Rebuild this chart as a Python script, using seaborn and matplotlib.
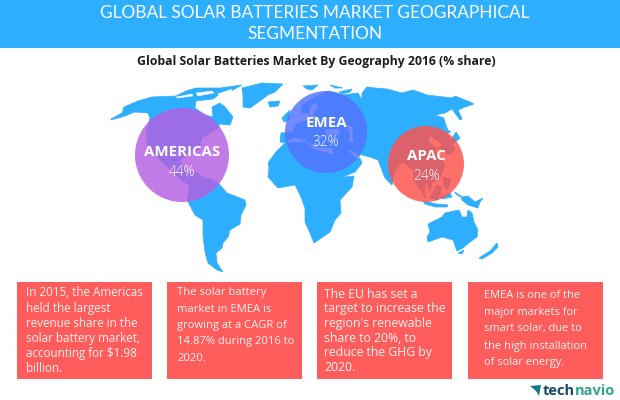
#!/usr/bin/env python3
"""Global solar batteries market by geography, map infographic."""

import matplotlib
matplotlib.use("Agg")
import matplotlib.pyplot as plt
from matplotlib.patches import Polygon, Rectangle
import pandas as pd
import seaborn as sns

sns.set_theme(style="white")
plt.rcParams["font.family"] = ["Open Sans", "DejaVu Sans"]

# Data
REGIONS = ["AMERICAS", "EMEA", "APAC"]
SHARES = [44, 32, 24]
TITLE_LINES = ["GLOBAL SOLAR BATTERIES MARKET GEOGRAPHICAL", "SEGMENTATION"]
SUBTITLE = "Global Solar Batteries Market By Geography 2016 (% share)"
NOTES = [
    ["In 2015, the Americas", "held the largest", "revenue share in the",
     "solar battery market,", "accounting for $1.98", "billion."],
    ["The solar battery", "market in EMEA is", "growing at a CAGR of",
     "14.87% during 2016 to", "2020."],
    ["The EU has set a", "target to increase the", "region's renewable",
     "share to 20%, to", "reduce the GHG by", "2020."],
    ["EMEA is one of the", "major markets for", "smart solar, due to",
     "the high installation", "of solar energy."],
]

# Colours
BLUE = "#2EAEFF"
RED = "#FF5C5C"
BUBBLE_COLORS = ["#B560E1", "#5474FF", "#FF534C"]

# Layout, in reference pixels
BUBBLE_X = [182, 326, 426]
BUBBLE_Y = [155, 132, 164]
BUBBLE_R = [47, 41, 38]
BOX_X = [(17, 152), (167, 302), (317, 452), (468, 603)]
NOTE_X = [26, 177, 324, 484]
NOTE_Y = [293, 293, 294, 295]
NOTE_STEP = [15.2, 16.3, 14.7, 17.0]
NOTE_SIZE = [8.4, 8.1, 8.8, 7.9]

# Map outlines in pixels
LAND = [
    # North and Central America
    [(111, 119), (122, 113), (124, 107), (138, 101), (152, 97), (176, 96),
     (186, 91), (196, 88), (220, 88), (242, 85), (233, 90), (221, 93),
     (213, 99), (196, 101), (195, 108), (205, 115), (213, 117), (212, 107),
     (220, 103), (225, 107), (233, 117), (230, 125), (220, 124), (217, 129),
     (202, 138), (199, 150), (190, 151), (180, 160), (185, 170), (197, 173),
     (212, 183), (205, 186), (190, 186), (178, 177), (160, 160), (148, 145),
     (146, 133), (150, 118), (148, 113), (135, 112), (125, 116), (111, 120)],
    # South America
    [(190, 182), (210, 178), (220, 185), (227, 193), (245, 200), (246, 205),
     (241, 215), (240, 224), (230, 230), (228, 237), (223, 243), (222, 248),
     (216, 253), (217, 263), (223, 272), (217, 270), (208, 263), (205, 252),
     (203, 235), (203, 220), (195, 215), (187, 200)],
    # Greenland and Iceland
    [(242, 88), (262, 83), (283, 84), (275, 92), (268, 95), (257, 103),
     (250, 108), (243, 107), (243, 95)],
    [(268, 102), (280, 101), (278, 106), (270, 107)],
    # Africa
    [(268, 163), (276, 152), (285, 143), (305, 142), (315, 150), (335, 155),
     (342, 172), (345, 177), (354, 176), (352, 187), (340, 200), (341, 213),
     (335, 220), (330, 232), (314, 243), (310, 233), (305, 222), (305, 208),
     (301, 197), (295, 185), (278, 188), (268, 177), (269, 168)],
    # Eurasia
    [(280, 142), (281, 133), (293, 132), (296, 124), (308, 120), (310, 113),
     (302, 113), (302, 106), (315, 97), (328, 91), (343, 95), (358, 93),
     (362, 100), (362, 93), (367, 87), (375, 88), (387, 89), (402, 93),
     (413, 90), (427, 95), (452, 98), (455, 96), (470, 102), (474, 104),
     (465, 107), (458, 110), (462, 119), (460, 120), (452, 109), (445, 113),
     (435, 115), (444, 118), (445, 128), (448, 135), (455, 150), (448, 155),
     (441, 148), (435, 150), (445, 165), (440, 178), (432, 183), (430, 193),
     (425, 180), (425, 198), (414, 180), (413, 170), (403, 162), (395, 170),
     (392, 185), (385, 178), (378, 160), (370, 157), (358, 154), (362, 163),
     (355, 172), (345, 176), (340, 170), (333, 152), (333, 148), (318, 147),
     (316, 140), (312, 145), (305, 140), (295, 137), (288, 140), (287, 143)],
    # Islands of the far north and Britain
    [(303, 86), (318, 85), (312, 90), (307, 89)],
    [(330, 85), (343, 88), (335, 88)],
    [(339, 92), (352, 89), (350, 92), (342, 94)],
    [(282, 118), (290, 110), (289, 120), (284, 122)],
    # Japan
    [(444, 120), (448, 130), (451, 132), (447, 133)],
    [(456, 132), (460, 138), (453, 144), (451, 140)],
    # South East Asia
    [(430, 198), (437, 185), (442, 188), (438, 200)],
    [(443, 177), (451, 179), (448, 190), (444, 186)],
    [(423, 201), (437, 204), (448, 205), (447, 207), (435, 207), (425, 204)],
    [(440, 197), (450, 193), (452, 197), (442, 199)],
    [(455, 193), (460, 197), (461, 196), (455, 192)],
    # New Guinea
    [(461, 197), (468, 196), (475, 202), (483, 198), (480, 202), (478, 208),
     (468, 205), (462, 200)],
    # Australia, Tasmania, New Zealand
    [(428, 224), (442, 217), (445, 213), (459, 210), (462, 217), (467, 217),
     (468, 210), (472, 213), (474, 222), (478, 230), (477, 237), (470, 242),
     (463, 248), (457, 251), (453, 240), (442, 237), (428, 242), (427, 237),
     (430, 232)],
    [(458, 253), (464, 250), (462, 254)],
    [(479, 258), (490, 251), (497, 243), (498, 247), (492, 253), (482, 259)],
]

# Inland seas and arctic channels, knocked out of the land fill
SEAS = [
    [(310, 117), (310, 108), (315, 103), (318, 107), (313, 112), (315, 118)],
    [(347, 125), (352, 127), (353, 142), (349, 142), (350, 134)],
    [(325, 130), (340, 129), (338, 135), (327, 135)],
    [(348, 150), (356, 153), (359, 158), (355, 157)],
    [(430, 136), (442, 145), (437, 148), (429, 141)],
    [(196, 93), (212, 91), (214, 93), (198, 96)],
    [(218, 94), (232, 89), (230, 92), (220, 97)],
    [(176, 97), (192, 94), (193, 96), (178, 98)],
]


def draw_map(ax):
    for outline in LAND:
        ax.add_patch(Polygon(outline, closed=True, facecolor=BLUE,
                             edgecolor=BLUE, linewidth=0.5, zorder=1))
    for outline in SEAS:
        ax.add_patch(Polygon(outline, closed=True, facecolor="white",
                             edgecolor="white", linewidth=0.3, zorder=1.5))


def draw_bubbles(ax):
    # 1 px is 0.72 pt at 100 dpi, scatter sizes are squared points
    df = pd.DataFrame({"region": REGIONS, "share": SHARES,
                       "x": BUBBLE_X, "y": BUBBLE_Y})
    sizes = {reg: (2 * r * 0.72) ** 2 for reg, r in zip(REGIONS, BUBBLE_R)}
    sns.scatterplot(data=df, x="x", y="y", hue="region", size="region",
                    palette=dict(zip(REGIONS, BUBBLE_COLORS)), sizes=sizes,
                    alpha=0.83, linewidth=0, legend=False, zorder=2, ax=ax)
    label_y = [152, 123, 156]
    share_y = [173, 143, 177]
    for reg, val, x, ly, sy in zip(REGIONS, SHARES, BUBBLE_X, label_y, share_y):
        ax.text(x, ly, reg, color="white", fontsize=10.8, fontweight="bold",
                ha="center", va="center", zorder=3)
        ax.text(x, sy, f"{val}%", color="white", fontsize=9.8,
                fontweight="light", ha="center", va="center", zorder=3)


def draw_notes(ax):
    for i, lines in enumerate(NOTES):
        x0, x1 = BOX_X[i]
        ax.add_patch(Rectangle((x0, 282), x1 - x0, 97, facecolor=RED,
                               edgecolor="none", zorder=1))
        for j, line in enumerate(lines):
            ax.text(NOTE_X[i], NOTE_Y[i] + j * NOTE_STEP[i], line, color="#FFF1F0",
                    fontsize=NOTE_SIZE[i], ha="left", va="center", zorder=3)


def draw_logo(ax):
    ax.add_patch(Polygon([(530, 386), (541, 385), (539, 396), (536, 391)],
                         closed=True, facecolor="#0E7C86", edgecolor="none"))
    tech = ax.text(543, 391, "tech", color="#17496B", fontsize=10.5,
                   fontweight="bold", ha="left", va="center")
    fig = ax.figure
    box = tech.get_window_extent(fig.canvas.get_renderer())
    x_end = ax.transData.inverted().transform((box.x1, box.y0))[0]
    ax.text(x_end, 391, "navio", color="#2FA58E", fontsize=10.5,
            fontweight="bold", ha="left", va="center")


def main():
    fig = plt.figure(figsize=(6.2, 4.0), dpi=100, facecolor="white")
    ax = fig.add_axes([0, 0, 1, 1])
    ax.set_xlim(0, 620)
    ax.set_ylim(400, 0)

    # Banner and headings
    ax.add_patch(Rectangle((0, 0), 620, 47.5, facecolor=BLUE, edgecolor="none"))
    for line, y in zip(TITLE_LINES, [13, 34]):
        ax.text(315, y, line, color="white", fontsize=12.4, family="Lato",
                ha="center", va="center")
    ax.text(316, 62, SUBTITLE, color="#1C1C1C", fontsize=8.8, fontweight="bold",
            ha="center", va="center")

    draw_map(ax)
    draw_bubbles(ax)
    draw_notes(ax)
    draw_logo(ax)

    ax.set_xlim(0, 620)
    ax.set_ylim(400, 0)
    ax.set_axis_off()
    fig.savefig("out.png", dpi=100)
    plt.close(fig)


if __name__ == "__main__":
    main()
